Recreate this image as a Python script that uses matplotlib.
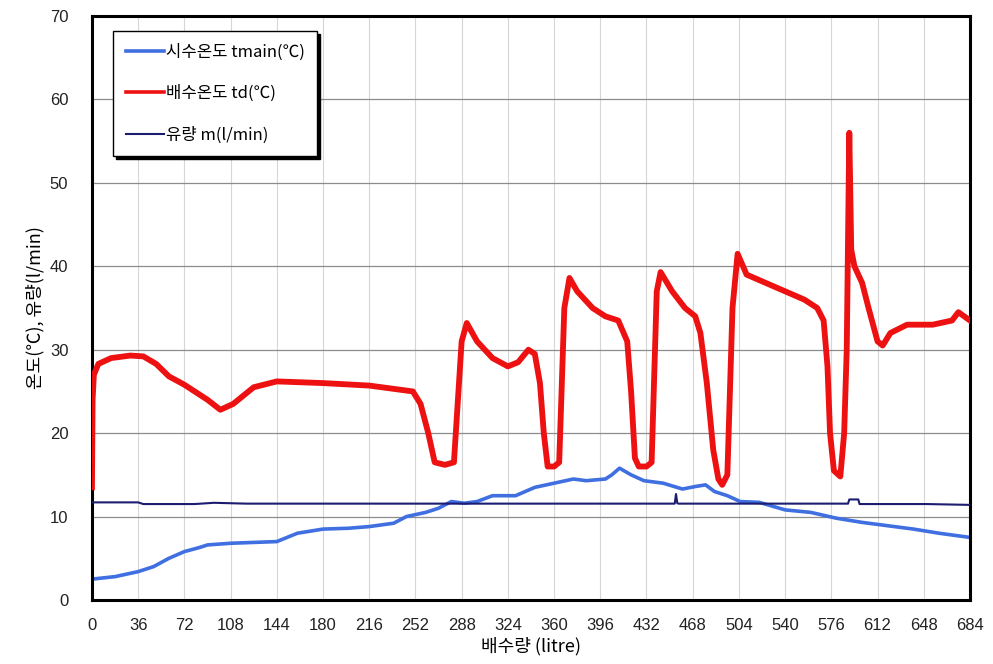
import numpy as np
import matplotlib.pyplot as plt
from matplotlib.lines import Line2D

plt.rcParams['font.family'] = ['Noto Sans CJK KR', 'DejaVu Sans']

# 배수온도 td (℃) - 빨간 선
td_x = [0, 0.5, 1.5, 5, 15, 30, 40, 50, 60, 72, 90, 100, 110, 126, 144, 180, 216, 250, 256,
        262, 267, 275, 282, 288, 292, 300, 312, 324, 332, 340, 345, 349, 352, 355, 360, 364,
        368, 372, 378, 390, 400, 410, 417, 420, 423, 426, 432, 436, 440, 443, 452, 462, 470,
        474, 479, 484, 488, 491, 495, 499, 503, 510, 525, 540, 555, 565, 570, 573, 575, 578,
        583, 586, 588, 590, 591.5, 594, 600, 605, 612, 616, 622, 635, 655, 670, 675, 684]
td_y = [13.5, 24, 27, 28.3, 29.0, 29.3, 29.2, 28.3, 26.8, 25.8, 24.0, 22.8, 23.5, 25.5, 26.2,
        26.0, 25.7, 25.0, 23.5, 20, 16.5, 16.2, 16.5, 31, 33.2, 31, 29, 28, 28.5, 30, 29.5,
        26, 20, 16, 16, 16.5, 35, 38.6, 37, 35, 34, 33.5, 31, 25, 17, 16, 16, 16.5, 37,
        39.3, 37, 35, 34, 32, 26, 18, 14.5, 13.8, 15, 35, 41.5, 39, 38, 37, 36, 35, 33.5,
        28, 20, 15.5, 14.8, 20, 30, 56, 42, 40, 38, 35, 31, 30.5, 32, 33, 33, 33.5, 34.5, 33.5]

# 시수온도 tmain (℃) - 파란 선
tm_x = [0, 18, 36, 48, 60, 72, 84, 90, 108, 144, 160, 180, 200, 216, 235, 245, 260, 270,
        280, 290, 300, 312, 330, 345, 360, 375, 385, 400, 405, 411, 420, 430, 445, 460, 470,
        478, 485, 495, 505, 520, 540, 560, 580, 600, 620, 640, 660, 684]
tm_y = [2.5, 2.8, 3.4, 4.0, 5.0, 5.8, 6.3, 6.6, 6.8, 7.0, 8.0, 8.5, 8.6, 8.8, 9.2, 10.0,
        10.5, 11.0, 11.8, 11.6, 11.8, 12.5, 12.5, 13.5, 14.0, 14.5, 14.3, 14.5, 15.0, 15.8,
        15.0, 14.3, 14.0, 13.3, 13.6, 13.8, 13.0, 12.5, 11.8, 11.7, 10.8, 10.5, 9.8, 9.3,
        8.9, 8.5, 8.0, 7.5]

# 유량 m (l/min) - 남색 선
m_x = [0, 36, 40, 80, 95, 120, 200, 454, 455, 456, 457, 589, 590, 597, 598, 650, 684]
m_y = [11.7, 11.7, 11.5, 11.5, 11.65, 11.55, 11.55, 11.55, 12.7, 11.6, 11.55, 11.55, 12.05,
       12.05, 11.5, 11.5, 11.4]

xticks = list(range(0, 685, 36))
yticks = list(range(0, 71, 10))

fig = plt.figure(figsize=(9.93, 6.64), dpi=100)
ax = fig.add_axes([0.0926, 0.0964, 0.8842, 0.8795])

for xt in xticks[1:-1]:
    ax.axvline(xt, color='#d6d6d6', lw=0.8, zorder=0)
for yt in yticks[1:-1]:
    ax.axhline(yt, color='#8c8c8c', lw=0.9, zorder=0)

ax.plot(td_x, td_y, color='#ee1111', lw=4.2, solid_joinstyle='round', zorder=3)
ax.plot(tm_x, tm_y, color='#3f6fe0', lw=2.6, zorder=2)
ax.plot(m_x, m_y, color='#1c1c70', lw=1.5, zorder=4)

ax.set_xlim(0, 684)
ax.set_ylim(0, 70)
ax.set_xticks(xticks)
ax.set_yticks(yticks)
ax.tick_params(length=0, labelsize=12, pad=13, colors='#222222')
ax.tick_params(axis='y', pad=17)
for lab in ax.get_xticklabels() + ax.get_yticklabels():
    lab.set_family(['Liberation Sans', 'DejaVu Sans'])
for sp in ax.spines.values():
    sp.set_linewidth(2.2)
    sp.set_color('black')

ax.set_xlabel('배수량 (litre)', fontsize=13, labelpad=3)
ax.set_ylabel('온도(℃), 유량(l/min)', fontsize=13, labelpad=4)

handles = [Line2D([], [], color='#3f6fe0', lw=2.6),
           Line2D([], [], color='#ee1111', lw=2.6),
           Line2D([], [], color='#1c1c70', lw=1.5)]
labels = ['시수온도 tmain(℃)', '배수온도 td(℃)', '유량 m(l/min)']
leg = ax.legend(handles, labels, loc='upper left', bbox_to_anchor=(0.024, 0.974),
                borderaxespad=0, fontsize=12, labelspacing=1.45, handlelength=2.3,
                handletextpad=0.1, borderpad=0.75, fancybox=False, framealpha=1,
                edgecolor='black', shadow={'color': 'black', 'alpha': 1})
leg.get_frame().set_linewidth(1.0)
leg.set_zorder(10)

fig.savefig('out.png', dpi=100)
